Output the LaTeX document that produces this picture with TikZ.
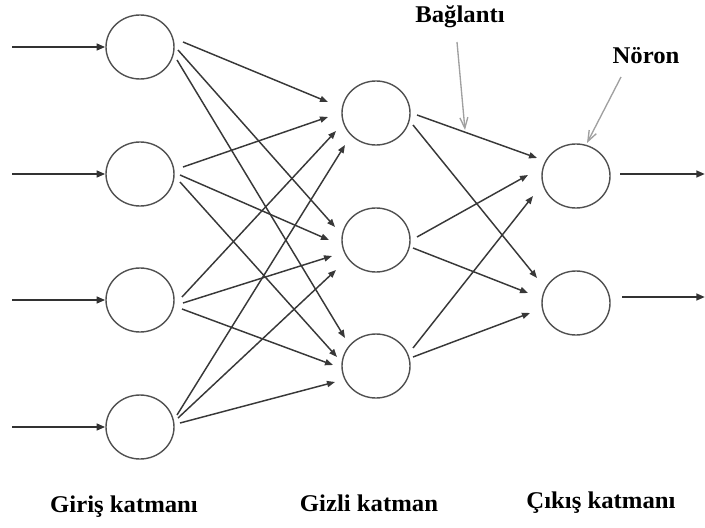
\documentclass[tikz,border=0pt]{standalone}
\usepackage{fontspec}
\setmainfont{Liberation Serif}[FakeStretch=1.03]
\usetikzlibrary{shapes.geometric,arrows.meta}
\definecolor{circ}{HTML}{505050}
\definecolor{conncol}{HTML}{383838}
\definecolor{annot}{HTML}{A0A0A0}
\begin{document}
\begin{tikzpicture}[x=0.75pt,y=-0.75pt,
  neuron/.style={draw=circ,line width=1.05pt,ellipse,minimum width=51pt,minimum height=48pt,inner sep=0pt},
  conn/.style={draw=conncol,line width=1.1pt,-{Triangle[length=6pt,width=4.6pt]}},
  io/.style={draw=conncol!90!black,line width=1.7pt,-{Triangle[length=6.5pt,width=5pt]}},
  annarrow/.style={draw=annot,line width=1pt,-{Straight Barb[length=8pt,width=6pt]}},
  lab/.style={font=\fontsize{18}{21}\selectfont\bfseries,inner sep=0pt,anchor=center}]
\useasboundingbox (0,0) rectangle (705,527);
% neurons
\node[neuron] (i1) at (140,47) {};
\node[neuron] (i2) at (140,174) {};
\node[neuron] (i3) at (140,300) {};
\node[neuron] (i4) at (140,427) {};
\node[neuron] (h1) at (376,113) {};
\node[neuron] (h2) at (376,240) {};
\node[neuron] (h3) at (376,366) {};
\node[neuron] (o1) at (576,176) {};
\node[neuron] (o2) at (576,303) {};
% input arrows
\coordinate (a1) at (12,47);
\coordinate (a2) at (12,174);
\coordinate (a3) at (12,300);
\coordinate (a4) at (12,427);
\draw[io] (a1) -- (i1.west);
\draw[io] (a2) -- (i2.west);
\draw[io] (a3) -- (i3.west);
\draw[io] (a4) -- (i4.west);
% output arrows
\coordinate (b1) at (705,174);
\coordinate (b2) at (705,297);
\draw[io] ([shift={(44,-2)}]o1.center) -- (b1);
\draw[io] ([shift={(46,-6)}]o2.center) -- (b2);
% input -> hidden
\draw[conn] ([shift={(43,-5)}]i1.center) -- ([shift={(-48,-11)}]h1.center);
\draw[conn] ([shift={(38,3)}]i1.center) -- ([shift={(-41,-13)}]h2.center);
\draw[conn] ([shift={(37,13)}]i1.center) -- ([shift={(-31,-28)}]h3.center);
\draw[conn] ([shift={(43,-7)}]i2.center) -- ([shift={(-48,4)}]h1.center);
\draw[conn] ([shift={(40,1)}]i2.center) -- ([shift={(-47,0)}]h2.center);
\draw[conn] ([shift={(40,8)}]i2.center) -- ([shift={(-39,-9)}]h3.center);
\draw[conn] ([shift={(42,-3)}]i3.center) -- ([shift={(-40,18)}]h1.center);
\draw[conn] ([shift={(43,3)}]i3.center) -- ([shift={(-44,16)}]h2.center);
\draw[conn] ([shift={(42,9)}]i3.center) -- ([shift={(-43,-1)}]h3.center);
\draw[conn] ([shift={(37,-12)}]i4.center) -- ([shift={(-31,32)}]h1.center);
\draw[conn] ([shift={(38,-9)}]i4.center) -- ([shift={(-40,30)}]h2.center);
\draw[conn] ([shift={(40,-4)}]i4.center) -- ([shift={(-41,16)}]h3.center);
% hidden -> output
\draw[conn] ([shift={(41,2)}]h1.center) -- ([shift={(-39,-18)}]o1.center);
\draw[conn] ([shift={(37,12)}]h1.center) -- ([shift={(-39,-25)}]o2.center);
\draw[conn] ([shift={(41,-3)}]h2.center) -- ([shift={(-48,-1)}]o1.center);
\draw[conn] ([shift={(37,8)}]h2.center) -- ([shift={(-48,-10)}]o2.center);
\draw[conn] ([shift={(37,-18)}]h3.center) -- ([shift={(-43,20)}]o1.center);
\draw[conn] ([shift={(37,-9)}]h3.center) -- ([shift={(-46,10)}]o2.center);
% annotations
\node[lab] (bag) at (460,17) {Bağlantı};
\node[lab] (nor) at (646,56) {Nöron};
\coordinate (bagtip) at (465,130);
\coordinate (nortip) at (587,143);
\draw[annarrow] ([shift={(-3,25)}]bag.center) -- (bagtip);
\draw[annarrow] ([shift={(-25,21)}]nor.center) -- (nortip);
% layer labels
\node[lab] (lin) at (124,507) {Giriş katmanı};
\node[lab] (lhid) at (369,503) {Gizli katman};
\node[lab] (lout) at (601,503) {Çıkış katmanı};
\end{tikzpicture}
\end{document}
